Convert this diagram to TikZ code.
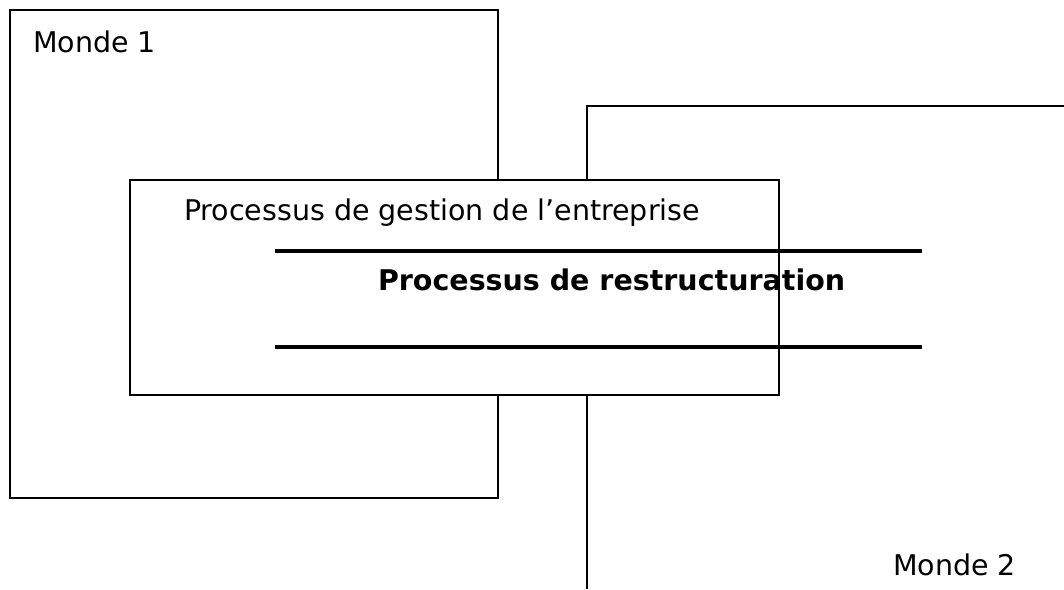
\documentclass[tikz,border=0pt]{standalone}
\usepackage{fontspec}
\setmainfont{DejaVu Sans}
\begin{document}
\begin{tikzpicture}[x=1pt,y=-1pt,line width=2pt,
  txt/.style={anchor=base west,inner sep=0pt,font=\fontsize{28.5}{34}\selectfont}]
\def\mondeun{(10,10) rectangle (498,498)}
\def\mondedeux{(587,589) -- (587,106) -- (1064,106)}
\def\gestionbox{(130,180) rectangle (779,395)}

\useasboundingbox (0,0) rectangle (1064,589);

\draw \mondeun;
\draw \mondedeux;
\draw[fill=white] \gestionbox; %covers both mondes

\draw[line width=4pt] (275,251) -- (922,251);
\draw[line width=4pt] (275,347) -- (922,347);

\node[txt] (monde1) at (32,52) {Monde 1};
\node[txt] (monde2) at (892,575) {Monde 2};
\node[txt] (gestion) at (183,220) {Processus de gestion de l’entreprise};
\node[txt,font=\fontsize{28.5}{34}\selectfont\bfseries] (restruct) at (377,290) {Processus de restructuration};
\end{tikzpicture}
\end{document}
